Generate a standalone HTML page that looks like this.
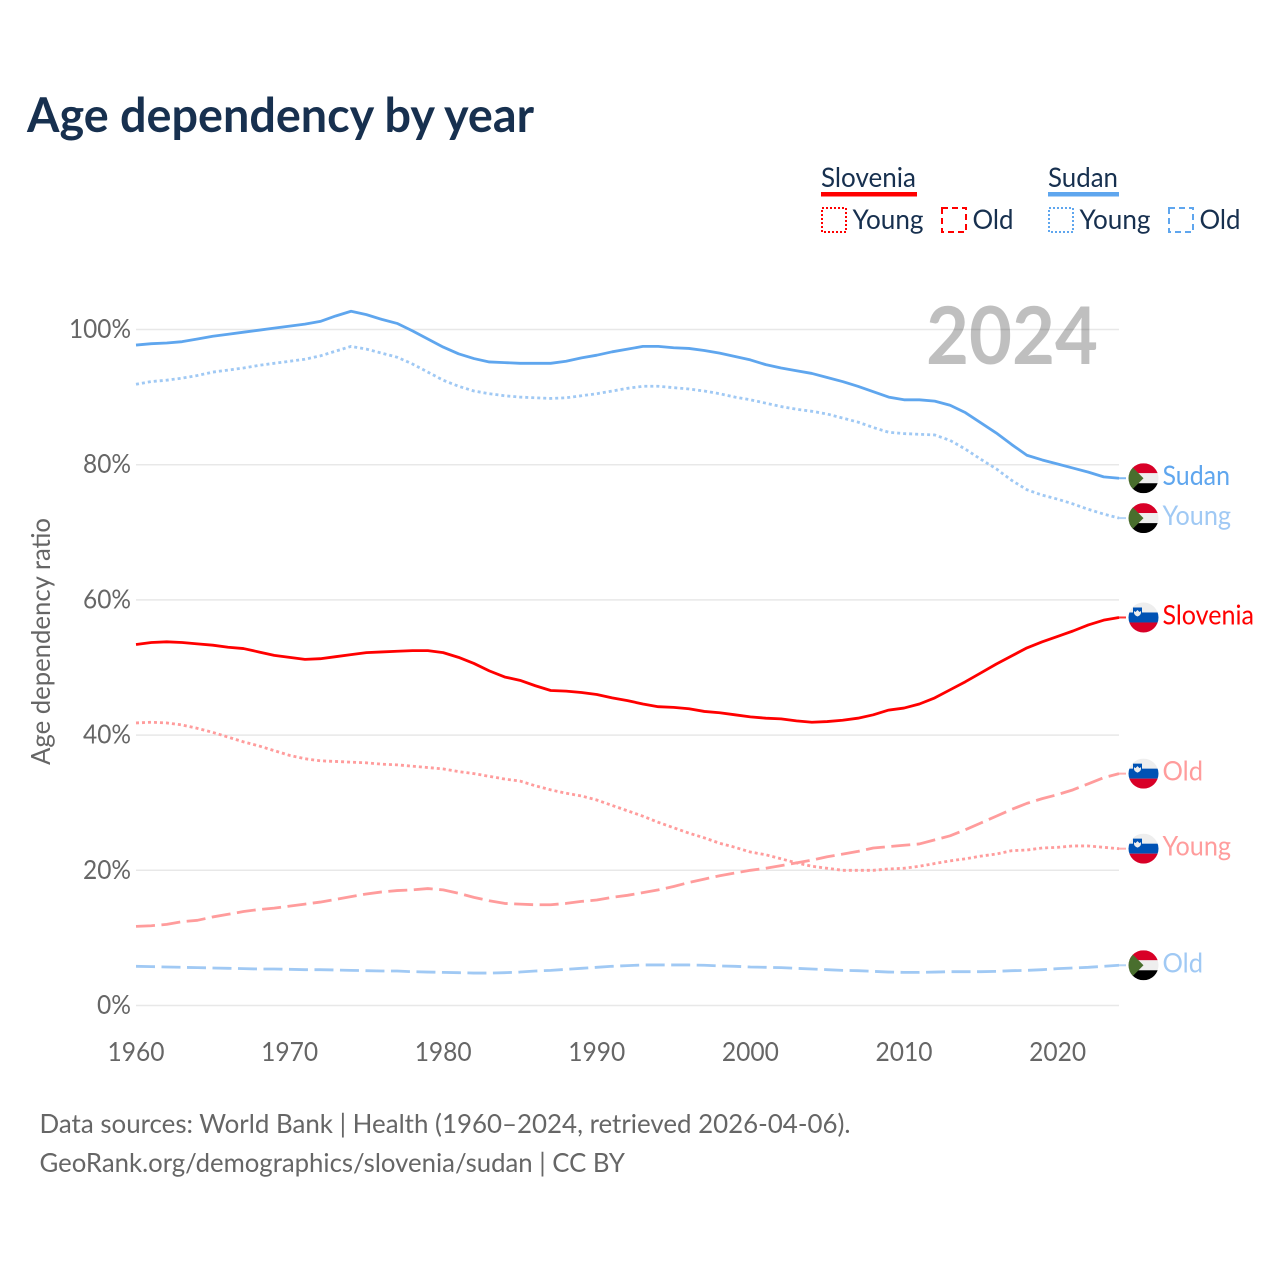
<!DOCTYPE html>
<html lang="en">
<head>
<meta charset="utf-8">
<title>Age dependency by year</title>
<style>
html,body{margin:0;padding:0;background:#fff}
svg{display:block}
text{font-family:"Lato","Carlito","Liberation Sans",sans-serif}
</style>
</head>
<body>
<svg id="chart" xmlns="http://www.w3.org/2000/svg" width="1280" height="1280" viewBox="0 0 1280 1280">
  <defs>
    <clipPath id="flag-clip"><circle cx="0" cy="0" r="15"/></clipPath>
  </defs>
  <rect x="0" y="0" width="1280" height="1280" fill="#fff"/>
  <text x="27" y="132" font-size="47.5" font-weight="700" fill="#17304f" textLength="507" lengthAdjust="spacingAndGlyphs">Age dependency by year</text>

  <g>
    <text x="821" y="187" font-size="27.5" fill="#17304f" textLength="95" lengthAdjust="spacingAndGlyphs">Slovenia</text>
    <rect x="821" y="192" width="96" height="4.5" fill="#ff0000"/>
    <rect x="822" y="208" width="24" height="24" fill="none" stroke="#ff0000" stroke-width="2" stroke-dasharray="2 2"/>
    <text x="852.5" y="229" font-size="27.5" fill="#17304f" textLength="71" lengthAdjust="spacingAndGlyphs">Young</text>
    <rect x="942" y="208" width="24" height="24" fill="none" stroke="#ff0000" stroke-width="2" stroke-dasharray="6 4"/>
    <text x="972.5" y="229" font-size="27.5" fill="#17304f" textLength="41" lengthAdjust="spacingAndGlyphs">Old</text>
    <text x="1048" y="187" font-size="27.5" fill="#17304f" textLength="70" lengthAdjust="spacingAndGlyphs">Sudan</text>
    <rect x="1048" y="192" width="71" height="4.5" fill="#5fa6ee"/>
    <rect x="1049" y="208" width="24" height="24" fill="none" stroke="#5fa6ee" stroke-width="2" stroke-dasharray="2 2"/>
    <text x="1079.5" y="229" font-size="27.5" fill="#17304f" textLength="71" lengthAdjust="spacingAndGlyphs">Young</text>
    <rect x="1169" y="208" width="24" height="24" fill="none" stroke="#5fa6ee" stroke-width="2" stroke-dasharray="6 4"/>
    <text x="1199.5" y="229" font-size="27.5" fill="#17304f" textLength="41" lengthAdjust="spacingAndGlyphs">Old</text>
  </g>

  <g id="grid"></g>
  <g id="ylabels"></g>
  <g id="xlabels"></g>
  <text transform="translate(50,765) rotate(-90)" font-size="26" fill="#666" textLength="247" lengthAdjust="spacingAndGlyphs">Age dependency ratio</text>
  <text x="926" y="364" font-size="80" font-weight="700" fill="#000" fill-opacity="0.25" textLength="172" lengthAdjust="spacingAndGlyphs">2024</text>
  <g id="series"></g>
  <g id="ends"></g>

  <text x="39.5" y="1133" font-size="26.5" fill="#666" textLength="811" lengthAdjust="spacingAndGlyphs">Data sources: World Bank | Health (1960–2024, retrieved 2026-04-06).</text>
  <text x="39.5" y="1172" font-size="26.5" fill="#666" textLength="585.5" lengthAdjust="spacingAndGlyphs">GeoRank.org/demographics/slovenia/sudan | CC BY</text>
</svg>
<script>
const startYear = 1960;
const xTickYears = [1960, 1970, 1980, 1990, 2000, 2010, 2020];
const yTickValues = [0, 20, 40, 60, 80, 100];

const sudanTotal = [97.7,97.9,98.0,98.2,98.6,99.0,99.3,99.6,99.9,100.2,100.5,100.8,101.2,102.0,102.7,102.2,101.5,100.9,99.8,98.6,97.4,96.4,95.7,95.2,95.1,95.0,95.0,95.0,95.3,95.8,96.2,96.7,97.1,97.5,97.5,97.3,97.2,96.9,96.5,96.0,95.5,94.8,94.3,93.9,93.5,92.9,92.3,91.6,90.8,90.0,89.6,89.6,89.4,88.8,87.7,86.2,84.7,83.0,81.4,80.7,80.1,79.5,78.9,78.2,78.0];
const sudanYoung = [91.9,92.3,92.5,92.8,93.2,93.7,94.0,94.3,94.7,95.0,95.3,95.6,96.1,96.8,97.5,97.1,96.5,95.9,94.9,93.7,92.5,91.6,90.9,90.5,90.2,90.0,89.9,89.8,89.9,90.2,90.5,90.9,91.3,91.6,91.6,91.4,91.2,90.9,90.5,90.0,89.6,89.1,88.6,88.2,87.9,87.5,86.9,86.3,85.5,84.8,84.6,84.5,84.4,83.6,82.3,80.8,79.4,77.7,76.3,75.5,74.9,74.2,73.4,72.7,72.1];
const sudanOld = [5.8,5.75,5.7,5.65,5.6,5.55,5.5,5.45,5.4,5.4,5.35,5.3,5.3,5.25,5.2,5.15,5.1,5.1,5.0,4.95,4.9,4.85,4.8,4.8,4.85,4.95,5.1,5.2,5.35,5.5,5.65,5.8,5.9,6.0,6.0,6.0,6.0,5.95,5.85,5.8,5.7,5.65,5.6,5.5,5.4,5.3,5.2,5.15,5.05,4.95,4.9,4.9,4.95,5.0,5.0,5.0,5.05,5.15,5.2,5.3,5.45,5.55,5.65,5.8,5.95];
const sloveniaTotal = [53.4,53.7,53.8,53.7,53.5,53.3,53.0,52.8,52.3,51.8,51.5,51.2,51.3,51.6,51.9,52.2,52.3,52.4,52.5,52.5,52.2,51.5,50.6,49.5,48.6,48.1,47.3,46.6,46.5,46.3,46.0,45.5,45.1,44.6,44.2,44.1,43.9,43.5,43.3,43.0,42.7,42.5,42.4,42.1,41.9,42.0,42.2,42.5,43.0,43.7,44.0,44.6,45.5,46.7,47.9,49.2,50.5,51.7,52.9,53.8,54.6,55.4,56.3,57.0,57.4];
const sloveniaYoung = [41.8,41.9,41.8,41.5,41.0,40.4,39.7,39.0,38.4,37.7,37.0,36.5,36.2,36.1,36.0,35.9,35.7,35.6,35.4,35.2,35.0,34.6,34.3,33.9,33.5,33.2,32.5,31.9,31.4,31.0,30.4,29.6,28.8,28.0,27.1,26.3,25.5,24.8,24.0,23.4,22.7,22.3,21.7,21.1,20.6,20.3,20.0,20.0,20.0,20.2,20.3,20.6,21.0,21.4,21.7,22.1,22.4,22.9,23.0,23.3,23.4,23.6,23.6,23.4,23.2];
const sloveniaOld = [11.7,11.8,12.0,12.4,12.6,13.1,13.5,13.9,14.2,14.4,14.7,15.0,15.3,15.7,16.1,16.5,16.8,17.0,17.1,17.3,17.1,16.6,16.0,15.5,15.1,15.0,14.9,14.9,15.1,15.4,15.6,16.0,16.3,16.7,17.1,17.6,18.2,18.7,19.2,19.6,20.0,20.3,20.7,21.1,21.5,22.0,22.4,22.8,23.3,23.5,23.7,23.9,24.5,25.1,26.0,27.0,28.0,29.0,29.9,30.6,31.2,31.9,32.8,33.7,34.3];

const NS = 'http://www.w3.org/2000/svg';
const xScale = function (year) { return 136 + (year - 1960) * 15.36; };
const yScale = function (value) { return 1005.5 - value * 6.76; };

function svgEl(tag, parent, attrs) {
  const el = document.createElementNS(NS, tag);
  Object.keys(attrs).forEach(function (k) { el.setAttribute(k, attrs[k]); });
  parent.appendChild(el);
  return el;
}

const gridG = document.getElementById('grid');
const yG = document.getElementById('ylabels');
const xG = document.getElementById('xlabels');
const seriesG = document.getElementById('series');
const endsG = document.getElementById('ends');

yTickValues.forEach(function (v) {
  const line = svgEl('line', gridG, { x1: 136, x2: 1119, y1: yScale(v), y2: yScale(v), stroke: '#e8e8e8', 'stroke-width': 1.5 });
  
  
  const label = svgEl('text', yG, { x: 131, y: yScale(v) + 8.5, 'text-anchor': 'end', 'font-size': 26, fill: '#666', textLength: v === 100 ? 62 : (v === 0 ? 34 : 48), lengthAdjust: 'spacingAndGlyphs' });
  
  
  label.textContent = v + '%';
});

xTickYears.forEach(function (yr) {
  const label = svgEl('text', xG, { x: xScale(yr), y: 1061, 'text-anchor': 'middle', 'font-size': 26, fill: '#666', textLength: 57, lengthAdjust: 'spacingAndGlyphs' });
  
  
  label.textContent = yr;
});

function drawLine(values, color, dash, name) {
  let d = '';
  values.forEach(function (v, i) {
    d += (i ? 'L' : 'M') + xScale(startYear + i).toFixed(2) + ' ' + yScale(v).toFixed(2);
  });
  const lastY = yScale(values[values.length - 1]).toFixed(2);
  const path = svgEl('path', seriesG, { d: d, fill: 'none', stroke: color, 'stroke-width': 2.8, 'stroke-linejoin': 'round' });
  if (dash) path.setAttribute('stroke-dasharray', dash);
  
  
  const lead = svgEl('line', seriesG, { x1: xScale(startYear + values.length - 1), x2: 1126, y1: lastY, y2: lastY, stroke: color, 'stroke-width': 2, 'stroke-opacity': 0.8 });
  
  
}

function drawFlag(country, cy) {
  const g = svgEl('g', endsG, { transform: 'translate(1143.5,' + cy.toFixed(2) + ')', 'clip-path': 'url(#flag-clip)' });
  
  
  if (country === 'sudan') {
    svgEl('rect', g, { x: -15, y: -15, width: 30, height: 10, fill: '#d80027' });
    svgEl('rect', g, { x: -15, y: -5, width: 30, height: 10, fill: '#eeeeee' });
    svgEl('rect', g, { x: -15, y: 5, width: 30, height: 10, fill: '#000000' });
    svgEl('polygon', g, { points: '-15,-15 0,0 -15,15', fill: '#496e2d' });
  } else {
    svgEl('rect', g, { x: -15, y: -15, width: 30, height: 10, fill: '#eeeeee' });
    svgEl('rect', g, { x: -15, y: -5, width: 30, height: 10, fill: '#0052b4' });
    svgEl('rect', g, { x: -15, y: 5, width: 30, height: 10, fill: '#d80027' });
    svgEl('path', g, { d: 'M-10.5 -10H-1.5V-5Q-1.5 -1 -6 0Q-10.5 -1 -10.5 -5Z', fill: '#0052b4' });
    svgEl('path', g, { d: 'M-9.5 -6.5L-8 -5.5L-6 -7.5L-4 -5.5L-2.5 -6.5V-4.5Q-3 -2 -6 -1Q-9 -2 -9.5 -4.5Z', fill: '#eeeeee' });
  }
}

function drawEndLabel(text, color, width, cy, name) {
  const t = svgEl('text', endsG, { x: 1162.5, y: (cy + 7).toFixed(2), 'font-size': 27.5, fill: color, textLength: width, lengthAdjust: 'spacingAndGlyphs' });
  
  
  t.textContent = text;
}

function drawSeries(values, color, dash, country, text, width, name) {
  drawLine(values, color, dash, 'line-' + name);
  const cy = yScale(values[values.length - 1]);
  drawFlag(country, cy);
  drawEndLabel(text, color, width, cy, 'end-label-' + name);
}

drawSeries(sudanOld, '#a0c9f4', '19 6.5', 'sudan', 'Old', 40.5, 'sudan-old');
drawSeries(sudanYoung, '#a0c9f4', '3 3', 'sudan', 'Young', 68.5, 'sudan-young');
drawSeries(sudanTotal, '#5fa6ee', null, 'sudan', 'Sudan', 67.5, 'sudan-total');
drawSeries(sloveniaOld, '#ff9c9c', '19 6.5', 'slovenia', 'Old', 40.5, 'slovenia-old');
drawSeries(sloveniaYoung, '#ff9c9c', '3 3', 'slovenia', 'Young', 68.5, 'slovenia-young');
drawSeries(sloveniaTotal, '#ff0000', null, 'slovenia', 'Slovenia', 91.5, 'slovenia-total');
</script>
</body>
</html>
